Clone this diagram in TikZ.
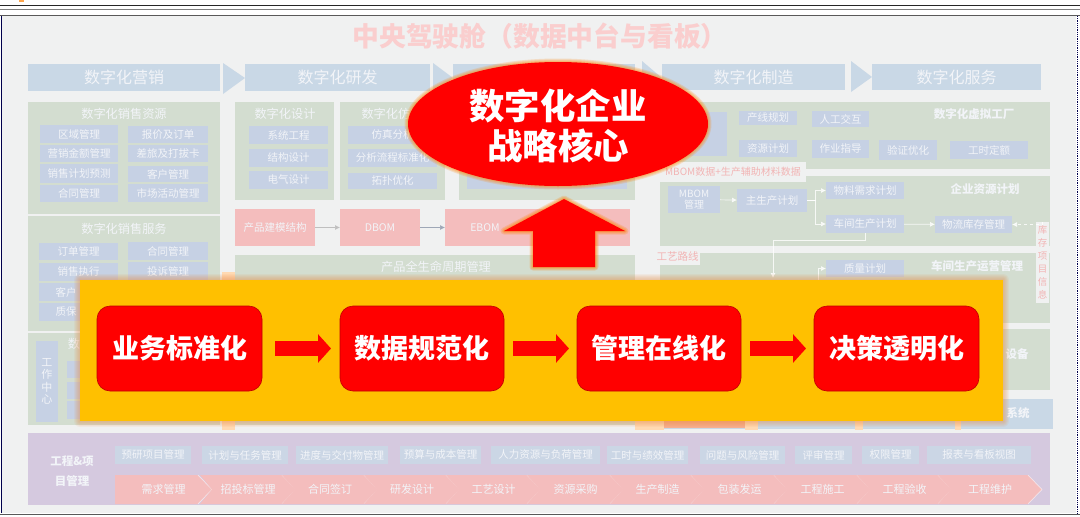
\documentclass[tikz,border=0pt]{standalone}
\usepackage{fontspec}
\setmainfont{Noto Sans CJK SC}
\usetikzlibrary{arrows.meta}
\definecolor{pagebg}{HTML}{F0F1F1}
\definecolor{headblue}{HTML}{C9D8E6}
\definecolor{panelgreen}{HTML}{D3DDD0}
\definecolor{tagblue}{HTML}{C6D1E4}
\definecolor{palepink}{HTML}{F4BDBD}
\definecolor{purplebg}{HTML}{D5C9DF}
\definecolor{strongred}{HTML}{FF0000}
\definecolor{gold}{HTML}{FFC000}
\definecolor{glow}{HTML}{E8853A}
\definecolor{softtext}{HTML}{F2F4F8}
\definecolor{pinktext}{HTML}{F2B4B4}
\newcommand{\fs}[1]{\fontsize{#1}{#1}\selectfont}
\newcommand{\bx}[7]{%
  \pgfmathsetmacro{\cxx}{(#2+#4)/2}\pgfmathsetmacro{\cyy}{(#3+#5)/2}%
  \pgfmathsetmacro{\ww}{#4-#2}\pgfmathsetmacro{\hh}{#5-#3}%
  \node[#6,minimum width=\ww pt,minimum height=\hh pt] (#1) at (\cxx,\cyy) {#7};}
\newcommand{\chev}[5]{% name, left, tip, notch depth, text
  \pgfmathsetmacro{\tipin}{#3-14}%
  \pgfmathsetmacro{\notch}{#2+#4}%
  \pgfmathsetmacro{\midx}{(#2+#3)/2}%
  \fill[palepink] (#2,475) -- (\tipin,475) -- (#3,489.5) -- (\tipin,504) -- (#2,504) -- (\notch,489.5) -- cycle;
  \draw[white,opacity=.55,line width=.7pt] (\tipin,475) -- (#3,489.5) -- (\tipin,504);
  \node[softtext,font=\fs{11},inner sep=0pt] (#1) at (\midx,489) {#5};}
\tikzset{
  every node/.style={inner sep=0pt,outer sep=0pt,align=center},
  head/.style={fill=headblue,text=softtext,font=\fs{16}},
  panel/.style={fill=panelgreen},
  tag/.style={fill=tagblue,text=softtext,font=\fs{10.5}},
  tagb/.style={fill=headblue!85!purplebg,text=softtext,font=\fs{10.5}},
  pinkbox/.style={fill=palepink,text=softtext,font=\fs{10.5}},
  ptitle/.style={text=softtext,font=\fs{12.2}},
  ptitleb/.style={text=softtext,font=\fs{11.5}\bfseries},
  thin arrow/.style={draw=white,opacity=.8,line width=.7pt,-{Latex[length=5pt,width=5pt]}},
  stepbox/.style={fill=strongred,draw=red!75!black,line width=.6pt,rounded corners=13pt,text=white,font=\fs{27}\bfseries},
  block arrow/.style={draw=strongred,line width=15pt,-{Triangle[length=13pt,width=28pt]}},
  stub/.style={fill=orange!30!white},
}
\begin{document}
\begin{tikzpicture}[x=1pt,y=-1pt]
\useasboundingbox (0,0) rectangle (1080,517);
\fill[white] (0,0) rectangle (1080,517);
% frame
\fill[pagebg] (2,16) rectangle (1076,513);
\draw[black!85,line width=.8pt] (0,5.5) -- (1080,5.5);
\draw[black!50,line width=.8pt] (0,9) -- (1080,9);
\draw[black!65,line width=.9pt] (0,15.5) -- (1080,15.5);
\draw[black!65,line width=.9pt] (0,514) -- (1080,514);
\draw[blue!30!black,line width=.9pt] (1.2,16) -- (1.2,513);
\draw[blue!30!black,line width=.8pt,densely dotted] (1077,16) -- (1077,514);
\fill[orange!70] (19,0) rectangle (24,1.5);
% title
\node[text=pink!70!pagebg,font=\fs{26.8}\bfseries] (title) at (540,36) {中央驾驶舱（数据中台与看板）};
% headers
\bx{h1}{28}{64}{220}{91}{head}{数字化营销}
\bx{h2}{245}{64}{430}{91}{head}{数字化研发}
\bx{h3}{453}{64}{635}{91}{head}{}
\bx{h4}{662}{64}{845}{90}{head}{数字化制造}
\bx{h5}{872}{64}{1041}{90}{head}{数字化服务}
\fill[headblue] (223,63) -- (245,78) -- (223,94) -- cycle;
\fill[headblue] (433,63) -- (453,78) -- (433,94) -- cycle;
\fill[headblue] (642,61) -- (662,78) -- (642,94) -- cycle;
\fill[headblue] (851,61) -- (872,77) -- (851,92) -- cycle;
% sales panels
\bx{p1}{28}{102}{220}{214}{panel}{}
\bx{p2}{28}{216}{220}{331}{panel}{}
\bx{p3}{28}{333}{220}{425}{panel}{}
\node[ptitle] (p1t) at (124,114) {数字化销售资源};
\node[ptitle] (p2t) at (124,229) {数字化销售服务};
\bx{a1}{40}{125}{118}{143}{tag}{区域管理}
\bx{a2}{40}{145}{118}{162}{tag}{营销金额管理}
\bx{a3}{40}{164}{118}{183}{tag}{销售计划预测}
\bx{a4}{40}{185}{118}{202}{tag}{合同管理}
\bx{b1}{128}{126}{208}{143}{tag}{报价及订单}
\bx{b2}{128}{145}{208}{162}{tag}{差旅及打拔卡}
\bx{b3}{128}{166}{208}{182}{tag}{客户管理}
\bx{b4}{128}{184}{208}{202}{tag}{市场活动管理}
\bx{c1}{39}{243}{118}{260}{tag}{订单管理}
\bx{c2}{39}{263}{118}{281}{tag}{销售执行}
\bx{c3}{39}{283}{118}{301}{tag}{}
\bx{c4}{39}{303}{118}{321}{tag}{}
\node[text=softtext,font=\fs{10.5}] (c3t) at (66,292) {客户};
\node[text=softtext,font=\fs{10.5}] (c4t) at (66,312) {质保};
\bx{d1}{128}{242}{208}{260}{tag}{合同管理}
\bx{d2}{128}{262}{208}{280}{tag}{投诉管理}
\node[ptitle] (p3t) at (74,344) {数};
\bx{wc}{36}{341}{58}{422}{tag,font=\fs{11}}{工\\[1.5pt]作\\[1.5pt]中\\[1.5pt]心}
\bx{e1}{67}{361}{118}{378}{tag}{}
\bx{e2}{67}{382}{118}{399}{tag}{}
\bx{e3}{67}{401}{118}{419}{tag}{}
% R&D panels
\bx{q1}{235}{102}{334}{200}{panel}{}
\bx{q2}{340}{102}{445}{200}{panel}{}
\bx{q3}{459}{102}{635}{200}{panel}{}
\node[ptitle] (q1t) at (285,114) {数字化设计};
\node[ptitle] (q2t) at (392,114) {数字化仿真};
\bx{f1}{249}{126}{328}{144}{tag}{系统工程}
\bx{f2}{249}{149}{328}{167}{tag}{结构设计}
\bx{f3}{249}{171}{328}{189}{tag}{电气设计}
\bx{g1}{348}{126}{437}{144}{tag}{仿真分析}
\bx{g2}{348}{149}{437}{167}{tag}{分析流程标准化}
\bx{g3}{348}{173}{437}{189}{tag}{拓扑优化}
\bx{g4}{467}{173}{627}{189}{tag}{}
\bx{r1}{235}{209}{315}{246}{pinkbox}{产品建模结构}
\bx{r2}{340}{209}{420}{246}{pinkbox}{DBOM}
\bx{r3}{445}{209}{525}{246}{pinkbox}{EBOM}
\bx{r4}{525}{209}{630}{246}{pinkbox}{}
\draw[draw=black!25,line width=.7pt,-{Latex[length=5pt,width=5pt]}] (r1) -- (r2);
\draw[draw=tagblue!80!black,line width=.7pt,-{Latex[length=5pt,width=5pt]}] (r2) -- (r3);
\bx{plm}{235}{255}{635}{425}{panel}{}
\node[ptitle] (plmt) at (436,267) {产品全生命周期管理};
% right panels
\bx{v1}{660}{102}{1050}{169}{panel}{}
\bx{v2}{660}{176}{1050}{246}{panel}{}
\bx{v3}{660}{253}{1050}{323}{panel}{}
\bx{v4}{660}{329}{1050}{390}{panel}{}
\bx{v5}{660}{399}{1053}{429}{fill=headblue}{}
\node[ptitleb] (v1t) at (974,114) {数字化虚拟工厂};
\node[ptitleb] (v2t) at (985,189) {企业资源计划};
\node[ptitleb] (v3t) at (977,266) {车间生产运营管理};
\node[ptitleb] (v4t) at (1017,354) {设备};
\node[ptitleb] (v5t) at (1018,413) {系统};
\bx{w0}{670}{112}{727}{156}{tag}{}
\bx{w1}{739}{111}{797}{125}{tag}{产线规划}
\bx{w2}{812}{111}{869}{127}{tag}{人工交互}
\bx{w3}{739}{140}{797}{157}{tag}{资源计划}
\bx{w4}{812}{140}{869}{158}{tag}{作业指导}
\bx{w5}{879}{140}{937}{160}{tag}{验证优化}
\bx{w6}{950}{141}{1028}{159}{tag}{工时定额}
\bx{mbar}{660}{162}{806}{182}{fill=pagebg,text=pinktext,font=\fs{10}}{MBOM数据+生产辅助材料数据}
\bx{m1}{668}{186}{720}{213}{tag,font=\fs{10}}{MBOM\\[1pt]管理}
\bx{m2}{737}{189}{807}{212}{tag}{主生产计划}
\bx{m3}{826}{182}{904}{199}{tag}{物料需求计划}
\bx{m4}{826}{215}{904}{233}{tag}{车间生产计划}
\bx{m5}{935}{216}{1012}{233}{tag}{物流库存管理}
\bx{m6}{826}{260}{904}{277}{tag}{质量计划}
\bx{kc}{1036}{222}{1049}{303}{fill=pagebg,text=pinktext,font=\fs{9.5}}{库\\[3.5pt]存\\[3.5pt]项\\[3.5pt]目\\[3.5pt]信\\[3.5pt]息}
\bx{gy}{655}{247}{700}{265}{fill=pagebg,text=pinktext,font=\fs{10.5}}{工艺路线}
\draw[thin arrow] (m1) -- (m2);
\draw[thin arrow] (m2.east) -- ++(8,0) |- (m3.west);
\draw[thin arrow] (m2.east) -- ++(8,0) |- (m4.west);
\draw[thin arrow] (m4) -- (m5);
\draw[thin arrow,dashed] (kc.north) |- (m5.east);
\coordinate (rt) at (773,240);
\coordinate (rb) at (773,278);
\draw[thin arrow] (m4.south) |- (rt) -- (rb);
\coordinate (qb) at (818,285);
\draw[thin arrow] (qb) |- (m6.west);
% stubs and tints seen beside the gold panel
\fill[stub] (222,421) rectangle (235,430);
\fill[stub] (222,272) rectangle (235,281);
\fill[stub] (635,421) rectangle (664,430);
\fill[orange!25!palepink] (664,421) rectangle (745,428);
\fill[stub] (745,421) rectangle (758,430);
\fill[stub] (855,421) rectangle (863,430);
\fill[stub] (955,421) rectangle (961,430);
% project management
\bx{pm}{28}{433}{1050}{505}{fill=purplebg}{}
\node[text=softtext,font=\fs{11.5}\bfseries,align=center] (pmt) at (72,471) {工程\&项\\[9pt]目管理};
\bx{t1}{115}{446}{191}{464}{tagb}{预研项目管理}
\bx{t2}{202}{446}{288}{464}{tagb}{计划与任务管理}
\bx{t3}{296}{446}{388}{464}{tagb}{进度与交付物管理}
\bx{t4}{400}{446}{481}{464}{tagb}{预算与成本管理}
\bx{t5}{491}{446}{600}{464}{tagb}{人力资源与负荷管理}
\bx{t6}{607}{446}{688}{464}{tagb}{工时与绩效管理}
\bx{t7}{700}{446}{785}{464}{tagb}{问题与风险管理}
\bx{t8}{795}{446}{852}{464}{tagb}{评审管理}
\bx{t9}{862}{446}{919}{464}{tagb}{权限管理}
\bx{t10}{927}{446}{1031}{464}{tagb}{报表与看板视图}
\chev{s1}{115}{212}{0}{需求管理}
\chev{s2}{200}{296}{12}{招投标管理}
\chev{s3}{282}{378}{13}{合同签订}
\chev{s4}{364}{460}{13}{研发设计}
\chev{s5}{446}{541}{13}{工艺设计}
\chev{s6}{527}{624}{13}{资源采购}
\chev{s7}{610}{705}{13}{生产制造}
\chev{s8}{691}{788}{13}{包装发运}
\chev{s9}{774}{871}{13}{工程施工}
\chev{s10}{857}{952}{13}{工程验收}
\chev{s11}{938}{1042}{13}{工程维护}
% gold band with soft shadow
\foreach \g in {12,10,8,6,4,2}{
  \draw[glow,opacity=.08,line width=\g pt,line join=round] (80,280) rectangle (1003,421);
}
\bx{band}{80}{280}{1003}{421}{fill=gold}{}
\bx{k1}{97}{306}{262}{391}{stepbox}{业务标准化}
\bx{k2}{340}{306}{504}{391}{stepbox}{数据规范化}
\bx{k3}{577}{306}{741}{391}{stepbox}{管理在线化}
\bx{k4}{814}{306}{979}{391}{stepbox}{决策透明化}
\draw[block arrow,shorten <=13pt,shorten >=9pt] (k1) -- (k2);
\draw[block arrow,shorten <=9pt,shorten >=8pt] (k2) -- (k3);
\draw[block arrow,shorten <=9pt,shorten >=8pt] (k3) -- (k4);
% ellipse
\foreach \g in {7,5,3,1.5}{
  \draw[orange,opacity=.18,line width=\g pt] (558,124) ellipse [x radius=150,y radius=62];
}
\fill[strongred] (558,124) ellipse [x radius=150,y radius=62];
\node[text=white,font=\fs{35.4}\bfseries,align=center] (core) at (558,126) {数字化企业\\[5pt]战略核心};
% big arrow
\foreach \g in {7,5,3,1.5}{
  \draw[orange,opacity=.2,line width=\g pt,line join=round] (564,199) -- (625,231) -- (595,231) -- (595,267) -- (533,267) -- (533,231) -- (504,231) -- cycle;
}
\fill[strongred] (564,199) -- (625,231) -- (595,231) -- (595,267) -- (533,267) -- (533,231) -- (504,231) -- cycle;
\end{tikzpicture}
\end{document}
